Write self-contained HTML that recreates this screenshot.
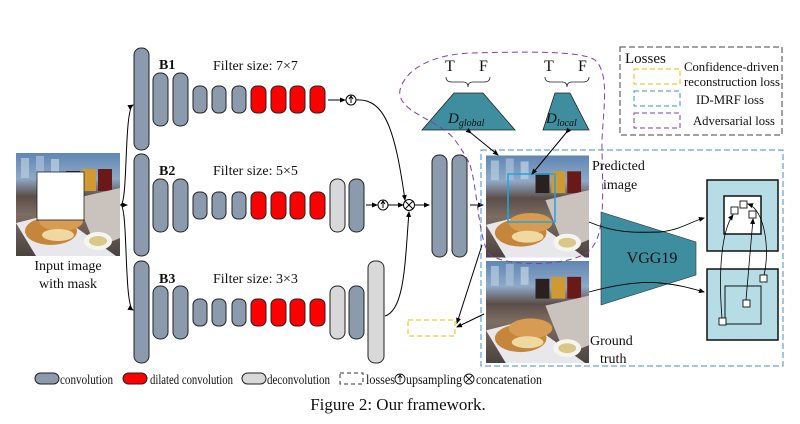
<!DOCTYPE html>
<html><head><meta charset="utf-8"><style>
html,body{margin:0;padding:0;background:#fff}
svg{display:block}
text{font-family:"Liberation Serif",serif;fill:#111}
</style></head><body>
<svg width="800" height="424" viewBox="0 0 800 424" xmlns="http://www.w3.org/2000/svg">
<defs>
<marker id="ar" markerWidth="6" markerHeight="6" refX="5" refY="3" orient="auto" markerUnits="userSpaceOnUse"><path d="M0,0.5 L6,3 L0,5.5z" fill="#000"/></marker>
<linearGradient id="bg" x1="0" y1="0" x2="0" y2="1">
<stop offset="0" stop-color="#5f86b4"/><stop offset="0.25" stop-color="#8fa9c6"/><stop offset="0.42" stop-color="#5b4e48"/><stop offset="0.6" stop-color="#7d6e64"/><stop offset="1" stop-color="#4a423e"/></linearGradient>
<symbol id="photo" viewBox="0 0 104 103">
<rect width="104" height="103" fill="url(#bg)"/>
<rect x="5" y="5" width="8" height="20" fill="#b8cde0" opacity="0.7"/>
<rect x="20" y="3" width="8" height="22" fill="#a9c1da" opacity="0.7"/>
<rect x="35" y="6" width="8" height="18" fill="#c2d4e6" opacity="0.7"/>
<rect x="50" y="18" width="14" height="20" fill="#2a2020"/>
<rect x="66" y="16" width="14" height="22" fill="#d09a30"/>
<rect x="82" y="16" width="14" height="22" fill="#6a1818"/>
<polygon points="60,45 104,35 104,85 80,95" fill="#c9c2bd"/>
<polygon points="0,70 40,60 100,103 20,103" fill="#e8e8ec"/>
<ellipse cx="35" cy="78" rx="26" ry="14" fill="#c5853a"/>
<ellipse cx="45" cy="68" rx="22" ry="10" fill="#d89b52"/>
<ellipse cx="42" cy="82" rx="16" ry="6" fill="#efd9a0"/>
<ellipse cx="82" cy="88" rx="14" ry="9" fill="#f5f5f0"/>
<ellipse cx="82" cy="88" rx="9" ry="5" fill="#d9c88a"/>
</symbol>
</defs>

<use href="#photo" x="16" y="153" width="104" height="103"/>
<rect x="37" y="172" width="47" height="48" fill="#fff" stroke="#222" stroke-width="0.8"/>
<text x="68" y="270" font-size="14" text-anchor="middle">Input image</text>
<text x="68" y="288" font-size="14" text-anchor="middle">with mask</text>

<g fill="none" stroke="#000" stroke-width="1">
<path d="M120,205 L127,205" marker-end="url(#ar)"/>
<path d="M121,205 C128,200 124,110 133,105" marker-end="url(#ar)"/>
<path d="M121,205 C128,210 124,305 133,310" marker-end="url(#ar)"/>
</g>

<g stroke="#222" stroke-width="1">
<rect x="134" y="48" width="15" height="102" rx="7" fill="#8c9aae"/>
<rect x="134" y="154" width="15" height="102" rx="7" fill="#8c9aae"/>
<rect x="134" y="261" width="15" height="102" rx="7" fill="#8c9aae"/>
<g id="row">
<rect x="153" y="73" width="15" height="53" rx="7" fill="#8c9aae"/>
<rect x="173" y="73" width="15" height="53" rx="7" fill="#8c9aae"/>
<rect x="193" y="86" width="14" height="27" rx="6" fill="#8c9aae"/>
<rect x="212" y="86" width="14" height="27" rx="6" fill="#8c9aae"/>
<rect x="232" y="86" width="14" height="27" rx="6" fill="#8c9aae"/>
<rect x="251" y="86" width="15" height="27" rx="6" fill="#f00"/>
<rect x="271" y="86" width="15" height="27" rx="6" fill="#f00"/>
<rect x="290" y="86" width="15" height="27" rx="6" fill="#f00"/>
<rect x="310" y="86" width="15" height="27" rx="6" fill="#f00"/>
</g>
<use href="#row" y="106"/>
<use href="#row" y="213"/>
<rect x="330" y="179" width="15" height="53" rx="7" fill="#d8d8d8"/>
<rect x="349" y="179" width="15" height="53" rx="7" fill="#8c9aae"/>
<rect x="330" y="286" width="15" height="53" rx="7" fill="#d8d8d8"/>
<rect x="349" y="286" width="15" height="53" rx="7" fill="#8c9aae"/>
<rect x="368" y="261" width="16" height="102" rx="7" fill="#d8d8d8"/>
<rect x="432" y="155" width="15" height="102" rx="7" fill="#8c9aae"/>
<rect x="452" y="155" width="15" height="102" rx="7" fill="#8c9aae"/>
</g>

<text x="159" y="69" font-size="14" font-weight="bold">B1</text>
<text x="213" y="70" font-size="14">Filter size: 7×7</text>
<text x="159" y="175" font-size="14" font-weight="bold">B2</text>
<text x="213" y="175" font-size="14">Filter size: 5×5</text>
<text x="159" y="283" font-size="14" font-weight="bold">B3</text>
<text x="213" y="283" font-size="14">Filter size: 3×3</text>

<g fill="none" stroke="#000" stroke-width="1">
<path d="M328,100 L345,100" marker-end="url(#ar)"/>
<circle cx="351" cy="100" r="5" fill="#fff"/>
<path d="M351,103 L351,97 M349,99 L351,96 L353,99"/>
<path d="M356,100 C385,98 395,130 405,200" marker-end="url(#ar)"/>
<path d="M366,205 L377,205" marker-end="url(#ar)"/>
<circle cx="383" cy="205" r="5" fill="#fff"/>
<path d="M383,208 L383,202 M381,204 L383,201 L385,204"/>
<path d="M388,205 L403,205" marker-end="url(#ar)"/>
<circle cx="409" cy="205" r="5.5" fill="#fff"/>
<path d="M405,201 L413,209 M413,201 L405,209"/>
<path d="M385,316 C405,310 405,260 409,212" marker-end="url(#ar)"/>
<path d="M415,205 L429,205" marker-end="url(#ar)"/>
<path d="M470,205 L483,205" marker-end="url(#ar)"/>
</g>

<use href="#photo" x="486" y="155" width="103" height="103"/>
<use href="#photo" x="486" y="261" width="103" height="102"/>
<rect x="508" y="174" width="47" height="48" fill="none" stroke="#1aa8e0" stroke-width="1.5"/>
<text x="592" y="170" font-size="14">Predicted</text>
<text x="603" y="189" font-size="14">image</text>
<text x="590" y="345" font-size="14">Ground</text>
<text x="600" y="363" font-size="14">truth</text>

<rect x="481" y="150" width="302" height="216" fill="none" stroke="#3d8fd0" stroke-width="1" stroke-dasharray="6,3"/>

<polygon points="454,93 483,93 515,130 422,130" fill="#3e8ea0" stroke="#222" stroke-width="0.8"/>
<polygon points="555,93 570,93 589,130 543,130" fill="#3e8ea0" stroke="#222" stroke-width="0.8"/>
<text x="448" y="123" font-size="15" font-style="italic">D<tspan font-size="10" dy="3">global</tspan></text>
<text x="546" y="123" font-size="15" font-style="italic">D<tspan font-size="10" dy="3">local</tspan></text>
<g font-size="16"><text x="445" y="71">T</text><text x="479" y="71">F</text><text x="544" y="71">T</text><text x="578" y="71">F</text></g>
<g fill="none" stroke="#222" stroke-width="0.8">
<path d="M446,77 Q446,82 452,82 L463,82 Q468,82 468,87 Q468,82 473,82 L484,82 Q490,82 490,77"/>
<path d="M545,77 Q545,82 551,82 L562,82 Q567,82 567,87 Q567,82 572,82 L583,82 Q589,82 589,77"/>
</g>
<g fill="none" stroke="#000" stroke-width="1">
<path d="M471,133 L498,155" marker-end="url(#ar)" marker-start="url(#ar)"/>
<path d="M566,133 L532,174" marker-end="url(#ar)" marker-start="url(#ar)"/>
<path d="M482,245 L457,323" marker-end="url(#ar)"/>
<path d="M484,314 L457,327" marker-end="url(#ar)"/>
</g>
<path d="M470,165 C478,190 478,240 490,255 C510,268 575,266 590,250 C605,235 603,200 602,150 C601,120 612,75 595,60 C580,50 520,52 470,53 C430,55 405,70 400,90 C396,112 440,120 455,140 C462,150 466,156 470,165 Z" fill="none" stroke="#7b3fb0" stroke-width="1" stroke-dasharray="6,4"/>

<rect x="408" y="320" width="47" height="16" fill="none" stroke="#f5b800" stroke-width="1" stroke-dasharray="5,3"/>

<polygon points="601,212 696,242 696,275 601,305" fill="#3e8ea0" stroke="#333" stroke-width="0.6"/>
<text x="652" y="263" font-size="16" text-anchor="middle">VGG19</text>
<g fill="none" stroke="#000" stroke-width="0.9">
<path d="M589,222 C620,235 640,232 660,232 C680,230 690,222 704,218" marker-end="url(#ar)"/>
<path d="M589,292 C615,285 640,281 660,283 C680,285 690,288 704,292" marker-end="url(#ar)"/>
</g>
<rect x="707" y="180" width="71" height="71" fill="#b6dde6" stroke="#111" stroke-width="1.5"/>
<rect x="724" y="196" width="37" height="38" fill="#fff" stroke="#111" stroke-width="1.5"/>
<rect x="707" y="269" width="71" height="71" fill="#b6dde6" stroke="#111" stroke-width="1.5"/>
<rect x="725" y="286" width="36" height="38" fill="none" stroke="#111" stroke-width="1"/>
<g fill="#fff" stroke="#111" stroke-width="0.9">
<rect x="731" y="207" width="7" height="7"/><rect x="740" y="201" width="7" height="7"/><rect x="749" y="211" width="7" height="7"/>
<rect x="760" y="275" width="7" height="7"/><rect x="743" y="300" width="7" height="7"/><rect x="719" y="318" width="7" height="7"/>
</g>
<g fill="none" stroke="#000" stroke-width="0.8">
<path d="M722,318 C718,270 722,230 733,215" marker-end="url(#ar)"/>
<path d="M746,300 L753,219" marker-end="url(#ar)"/>
<path d="M764,275 C770,250 765,210 748,204" marker-end="url(#ar)"/>
</g>

<rect x="620" y="47" width="162" height="88" fill="none" stroke="#444" stroke-width="1" stroke-dasharray="6,3"/>
<text x="625" y="63" font-size="15">Losses</text>
<rect x="634" y="69" width="46" height="15" fill="none" stroke="#f5b800" stroke-dasharray="5,3"/>
<rect x="634" y="91" width="46" height="15" fill="none" stroke="#3d8fd0" stroke-dasharray="5,3"/>
<rect x="634" y="113" width="46" height="15" fill="none" stroke="#7b3fb0" stroke-dasharray="5,3"/>
<g font-size="12.5"><text x="684" y="71" textLength="95" lengthAdjust="spacingAndGlyphs">Confidence-driven</text><text x="684" y="86" textLength="96" lengthAdjust="spacingAndGlyphs">reconstruction loss</text><text x="696" y="104" textLength="68" lengthAdjust="spacingAndGlyphs">ID-MRF loss</text><text x="693" y="125" textLength="82" lengthAdjust="spacingAndGlyphs">Adversarial loss</text></g>

<g stroke="#222" stroke-width="1">
<rect x="35" y="373" width="24" height="11" rx="5.5" fill="#8c9aae"/>
<rect x="123" y="373" width="24" height="11" rx="5.5" fill="#f00"/>
<rect x="242" y="373" width="24" height="11" rx="5.5" fill="#d8d8d8"/>
</g>
<rect x="340" y="373" width="23" height="11" fill="none" stroke="#333" stroke-dasharray="4,3"/>
<g font-size="14">
<text x="60" y="384" textLength="53" lengthAdjust="spacingAndGlyphs">convolution</text>
<text x="150" y="384" textLength="83" lengthAdjust="spacingAndGlyphs">dilated convolution</text>
<text x="267" y="384" textLength="63" lengthAdjust="spacingAndGlyphs">deconvolution</text>
<text x="366" y="384" textLength="29" lengthAdjust="spacingAndGlyphs">losses</text>
<text x="406" y="384" textLength="56" lengthAdjust="spacingAndGlyphs">upsampling</text>
<text x="476" y="384" textLength="66" lengthAdjust="spacingAndGlyphs">concatenation</text>
</g>
<g fill="none" stroke="#111" stroke-width="0.9">
<circle cx="400" cy="379" r="5" fill="#fff"/><path d="M400,382 L400,376 M398,378 L400,375 L402,378"/>
<circle cx="469" cy="379" r="5" fill="#fff"/><path d="M465.5,375.5 L472.5,382.5 M472.5,375.5 L465.5,382.5"/>
</g>
<text x="398" y="410" font-size="17" text-anchor="middle">Figure 2: Our framework.</text>
</svg>
</body></html>
